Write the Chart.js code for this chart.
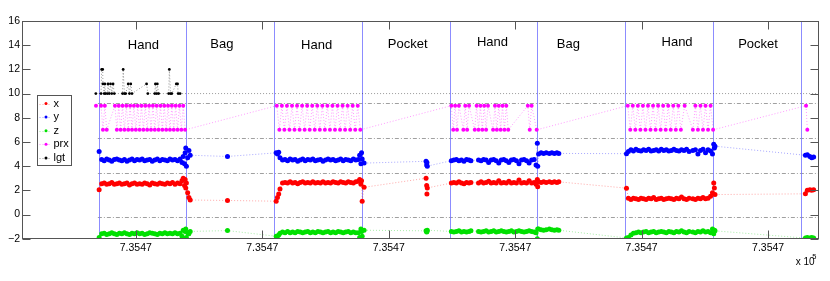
<!DOCTYPE html>
<html>
<head>
<meta charset="utf-8">
<script src="https://cdn.jsdelivr.net/npm/chart.js@4.4.1/dist/chart.umd.min.js"></script>
<style>
html,body{margin:0;padding:0;background:#fff;}
#c{display:block;}
</style>
</head>
<body>
<canvas id="c" width="830" height="281" style="width:830px;height:281px"></canvas>
<script>
// ---------- axis ticks ----------
const xTickVals = [0, 10, 20, 30, 40, 50];
const xTickLabels = ['7.3547', '7.3547', '7.3547', '7.3547', '7.3547', '7.3547'];
const yTickVals = [-2, 0, 2, 4, 6, 8, 10, 12, 14, 16];
const yTickLabels = ['\u22122', '0', '2', '4', '6', '8', '10', '12', '14', '16'];
const xExponent = '5';

// ---------- regions ----------
const boundaries = [-2.95, 3.95, 10.93, 17.89, 24.82, 31.75, 38.71, 45.67, 52.6];
const regionNames = ['Hand', 'Bag', 'Hand', 'Pocket', 'Hand', 'Bag', 'Hand', 'Pocket'];
const regionLabelX = [0.6, 6.8, 14.3, 21.5, 28.2, 34.2, 42.8, 49.2];
const regionLabelY = [13.7, 13.75, 13.7, 13.8, 13.9, 13.75, 13.95, 13.8];
const sepLevels = [9.25, 6.3, 3.4, -0.2];
const sepStart = -3.0;

// ---------- accelerometer series (shared time base) ----------
const accT = [
  -2.9,-2.7,-2.5,-2.3,-2.1,-1.9,-1.7,-1.5,-1.3,-1.1,-0.9,-0.7,-0.5,-0.3,-0.1,0.1,0.3,0.5,0.7,0.9,1.1,1.3,1.5,1.7,1.9,2.1,2.3,2.5,2.7,2.9,3.1,3.3,3.5,3.65,3.75,3.85,3.9,3.95,4.0,4.1,4.2,4.3,
  7.25,
  11.1,11.2,11.3,11.4,11.6,11.8,12.0,12.2,12.4,12.6,12.8,13.0,13.2,13.4,13.6,13.8,14.0,14.2,14.4,14.6,14.8,15.0,15.2,15.4,15.6,15.8,16.0,16.2,16.4,16.6,16.8,17.0,17.2,17.4,17.6,17.7,17.8,17.85,17.9,18.05,
  22.95,23.0,23.02,23.05,
  24.95,25.15,25.35,25.55,25.75,25.95,26.15,26.35,26.5,27.1,27.3,27.5,27.7,27.9,28.1,28.3,28.5,28.7,28.9,29.1,29.3,29.5,29.7,29.9,30.1,30.3,30.5,30.7,30.9,31.1,31.3,31.5,31.65,31.75,31.78,
  31.85,32.05,32.25,32.45,32.7,32.9,33.1,33.3,33.45,
  38.8,38.95,39.15,39.35,39.55,39.75,39.95,40.15,40.35,40.55,40.75,40.95,41.15,41.35,41.55,41.75,41.95,42.15,42.35,42.55,42.75,42.95,43.15,43.35,43.55,43.75,44.05,44.25,44.45,44.65,44.85,45.05,45.25,45.45,45.6,45.7,45.75,45.8,
  52.95,53.1,53.3,53.45,53.6
];
const accX = [
  2.05,2.55,2.6,2.5,2.55,2.65,2.5,2.55,2.6,2.5,2.55,2.6,2.45,2.55,2.6,2.5,2.55,2.5,2.6,2.55,2.45,2.6,2.55,2.5,2.6,2.55,2.5,2.6,2.55,2.65,2.5,2.6,2.55,2.8,3.0,2.4,2.9,2.2,2.6,1.8,1.4,1.2,
  1.16,
  1.1,1.4,1.7,2.1,2.6,2.65,2.6,2.7,2.6,2.65,2.55,2.65,2.7,2.6,2.65,2.6,2.7,2.6,2.65,2.6,2.7,2.6,2.65,2.6,2.7,2.65,2.6,2.7,2.65,2.6,2.7,2.65,2.6,2.7,2.75,2.9,2.5,2.8,1.1,2.25,
  3.0,2.4,1.7,2.2,
  2.6,2.65,2.6,2.7,2.6,2.55,2.65,2.6,2.65,2.6,2.7,2.6,2.65,2.75,2.6,2.65,2.6,2.8,2.6,2.65,2.6,2.75,2.6,2.65,2.6,2.85,2.6,2.65,2.6,2.8,2.6,2.65,2.5,2.9,2.3,
  2.7,2.65,2.7,2.65,2.7,2.65,2.7,2.65,2.7,
  2.18,1.35,1.25,1.35,1.3,1.25,1.35,1.3,1.25,1.35,1.3,1.4,1.25,1.3,1.35,1.25,1.3,1.35,1.3,1.25,1.35,1.3,1.45,1.3,1.25,1.35,1.3,1.25,1.35,1.3,1.4,1.3,1.35,1.5,1.8,2.6,2.2,1.65,
  1.71,2.0,2.05,2.0,2.05
];
const accY = [
  5.2,4.55,4.45,4.6,4.5,4.4,4.55,4.6,4.5,4.45,4.55,4.4,4.5,4.6,4.45,4.55,4.5,4.6,4.45,4.5,4.55,4.4,4.5,4.6,4.45,4.55,4.5,4.45,4.6,4.5,4.55,4.45,4.6,4.3,4.8,4.2,5.1,5.5,4.0,4.7,5.3,4.9,
  4.8,
  5.1,5.0,5.15,4.7,4.5,4.55,4.45,4.6,4.5,4.55,4.4,4.5,4.6,4.45,4.55,4.5,4.6,4.45,4.5,4.55,4.4,4.5,4.6,4.5,4.55,4.45,4.5,4.6,4.45,4.55,4.5,4.45,4.6,4.5,4.55,4.9,4.2,5.1,4.6,4.25,
  4.4,4.1,4.3,4.0,
  4.45,4.5,4.55,4.45,4.5,4.4,4.55,4.5,4.45,4.5,4.45,4.55,4.5,4.3,4.5,4.55,4.45,4.25,4.5,4.55,4.45,4.3,4.5,4.55,4.45,4.2,4.5,4.55,4.45,4.25,4.5,4.55,4.1,5.9,4.0,
  5.0,5.1,5.05,5.1,5.05,5.1,5.05,5.1,5.05,
  5.03,5.2,5.35,5.25,5.4,5.3,5.25,5.35,5.3,5.4,5.25,5.3,5.35,5.25,5.4,5.3,5.35,5.25,5.3,5.4,5.3,5.25,5.35,5.3,5.4,5.2,5.3,5.35,5.0,5.3,5.4,5.1,5.35,5.25,5.0,5.8,5.5,5.65,
  4.9,4.95,4.8,4.7,4.75
];
const accZ = [
  -1.9,-1.6,-1.55,-1.65,-1.6,-1.5,-1.6,-1.65,-1.55,-1.6,-1.5,-1.6,-1.65,-1.55,-1.6,-1.5,-1.6,-1.55,-1.65,-1.6,-1.5,-1.55,-1.6,-1.65,-1.55,-1.6,-1.5,-1.6,-1.55,-1.6,-1.5,-1.6,-1.55,-1.8,-1.3,-2.0,-1.4,-1.2,-1.9,-1.5,-1.6,-1.4,
  -1.33,
  -1.8,-2.0,-1.7,-1.55,-1.45,-1.5,-1.4,-1.5,-1.45,-1.5,-1.4,-1.45,-1.5,-1.45,-1.4,-1.5,-1.45,-1.5,-1.4,-1.45,-1.5,-1.45,-1.4,-1.5,-1.45,-1.5,-1.4,-1.45,-1.5,-1.45,-1.4,-1.5,-1.45,-1.5,-1.5,-1.9,-1.2,-1.4,-1.8,-1.3,
  -1.35,-1.45,-1.4,-1.3,
  -1.4,-1.45,-1.4,-1.35,-1.45,-1.4,-1.45,-1.4,-1.35,-1.4,-1.45,-1.4,-1.35,-1.45,-1.4,-1.35,-1.45,-1.4,-1.35,-1.4,-1.45,-1.4,-1.35,-1.45,-1.4,-1.35,-1.4,-1.45,-1.4,-1.35,-1.4,-1.45,-1.5,-2.0,-1.2,
  -1.2,-1.25,-1.3,-1.25,-1.2,-1.25,-1.3,-1.25,-1.3,
  -1.94,-1.9,-1.7,-1.55,-1.5,-1.45,-1.5,-1.45,-1.4,-1.5,-1.45,-1.4,-1.5,-1.45,-1.4,-1.45,-1.5,-1.4,-1.45,-1.5,-1.4,-1.45,-1.35,-1.45,-1.5,-1.4,-1.45,-1.5,-1.4,-1.45,-1.35,-1.45,-1.4,-1.5,-1.2,-1.6,-1.3,-1.35,
  -1.95,-1.9,-1.95,-1.9,-1.95
];

// ---------- proximity series ----------
const prxT = [
  -3.15,-2.75,-2.6,-2.45,-2.3,
  -1.65,-1.5,-1.35,-1.2,-1.05,-0.9,-0.75,-0.6,-0.45,-0.3,-0.15,0,0.15,0.3,0.45,0.6,0.75,0.9,1.05,1.2,1.35,1.5,1.65,1.8,1.95,2.1,2.25,2.4,2.55,2.7,2.85,3.0,3.15,3.3,3.45,3.6,3.75,3.9,
  11.15,11.35,11.55,11.75,11.95,12.15,12.35,12.55,12.75,12.95,13.15,13.35,13.55,13.75,13.95,14.15,14.35,14.55,14.75,14.95,15.15,15.35,15.55,15.75,15.95,16.15,16.35,16.55,16.75,16.95,17.15,17.35,17.55,17.75,
  24.95,25.1,25.25,25.4,25.55,25.9,26.05,26.2,26.35,26.8,26.95,27.1,27.25,27.4,27.55,27.7,27.85,28.25,28.4,28.55,28.7,28.85,29.0,29.15,29.3,29.45,31.0,31.15,31.3,31.7,
  38.9,39.1,39.3,39.5,39.7,39.9,40.1,40.3,40.5,40.7,40.9,41.1,41.3,41.5,41.7,41.9,42.1,42.3,42.5,42.7,42.9,43.1,43.4,44.05,44.25,44.45,44.65,44.85,45.05,45.25,45.45,45.65,
  53.0,53.1,53.35,53.45
];
const prxV = [
  9,9,7,9,7,
  9,7,9,7,9,7,9,7,9,7,9,7,9,7,9,7,9,7,9,7,9,7,9,7,9,7,9,7,9,7,9,7,9,7,
  9,7,9,7,9,7,9,7,9,7,9,7,9,7,9,7,9,7,9,7,9,7,9,7,9,7,9,7,9,7,9,7,9,7,9,7,
  9,7,9,7,9,7,9,7,9,7,9,7,9,7,9,7,9,7,9,7,9,7,9,7,9,7,9,7,9,7,
  9,7,9,7,9,7,9,7,9,7,9,7,9,7,9,7,9,7,9,7,9,7,9,7,9,7,9,7,9,7,9,7,
  9,7,9,7
];

// ---------- light series ----------
const lgtT = [-3.16,-2.75,-2.7,-2.62,-2.6,-2.5,-2.45,-2.4,-2.25,-2.2,-2.1,-2.0,-1.9,-1.8,-1.7,-1.05,-1.0,-0.9,-0.8,-0.6,-0.5,-0.4,-0.3,0.85,0.95,1.5,1.55,1.65,1.7,1.8,2.6,2.65,2.75,2.85,3.2,3.3,3.35,3.5,56];
const lgtV = [10,10,12,12,10.8,10,10.8,10,10,10.8,10,10.8,10,10.8,10,10,12,10,10,10.8,10,10.8,10,10.8,10,10,10.8,10,10.8,10,10,12,10,10,10.8,10.8,10,10,10];

// ---------- legend ----------
const legendNames = ['x', 'y', 'z', 'prx', 'lgt'];
const seriesColors = ['#ff0000', '#0000ff', '#00e000', '#ff00ff', '#000000'];
const lineColors = ['rgba(255,0,0,0.35)', 'rgba(0,0,255,0.35)', 'rgba(0,200,0,0.35)', 'rgba(255,0,255,0.4)', 'rgba(0,0,0,0.4)'];

const FONT = '"Liberation Sans", Arial, Helvetica, sans-serif';

function pts(xs, ys) { return xs.map((v, i) => ({ x: v, y: ys[i] })); }
function ds(idx, xs, ys, r) {
  return {
    label: legendNames[idx], data: pts(xs, ys), showLine: true,
    borderColor: lineColors[idx], borderWidth: 1, borderDash: [1, 2],
    pointRadius: r, pointBorderWidth: 0, pointBackgroundColor: seriesColors[idx],
    pointHoverRadius: r
  };
}

const decor = {
  id: 'decor',
  beforeDatasetsDraw(chart) {
    const { ctx, chartArea: a, scales: { x, y } } = chart;
    ctx.save();
    ctx.beginPath(); ctx.rect(a.left, a.top, a.right - a.left, a.bottom - a.top); ctx.clip();
    ctx.lineWidth = 1;
    ctx.strokeStyle = '#a0a0a0';
    ctx.setLineDash([4, 2, 1, 2]);
    sepLevels.forEach(v => {
      const py = Math.round(y.getPixelForValue(v)) + 0.5;
      ctx.beginPath(); ctx.moveTo(x.getPixelForValue(sepStart), py); ctx.lineTo(a.right, py); ctx.stroke();
    });
    ctx.setLineDash([]);
    ctx.strokeStyle = 'rgba(120,120,255,0.85)';
    boundaries.forEach(b => {
      const px = Math.round(x.getPixelForValue(b)) + 0.5;
      ctx.beginPath(); ctx.moveTo(px, a.top); ctx.lineTo(px, a.bottom); ctx.stroke();
    });
    ctx.restore();
  },
  afterDatasetsDraw(chart) {
    const { ctx, chartArea: a, scales: { x, y } } = chart;
    ctx.save();
    // region labels
    ctx.fillStyle = '#000';
    ctx.font = '13px ' + FONT;
    ctx.textAlign = 'center'; ctx.textBaseline = 'alphabetic';
    regionNames.forEach((n, i) => ctx.fillText(n, x.getPixelForValue(regionLabelX[i]), y.getPixelForValue(regionLabelY[i])));
    // frame
    const L = a.left + 0.5, R = Math.round(a.right) - 0.5, T = a.top + 0.5, B = Math.round(a.bottom) - 0.5;
    ctx.strokeStyle = '#555'; ctx.lineWidth = 1; ctx.setLineDash([]);
    ctx.strokeRect(L, T, R - L, B - T);
    const tl = 8;
    ctx.beginPath();
    xTickVals.forEach(v => {
      const px = Math.round(x.getPixelForValue(v)) + 0.5;
      ctx.moveTo(px, B); ctx.lineTo(px, B - tl);
      ctx.moveTo(px, T); ctx.lineTo(px, T + tl);
    });
    yTickVals.forEach(v => {
      const py = Math.round(y.getPixelForValue(v)) + 0.5;
      ctx.moveTo(L, py); ctx.lineTo(L + tl, py);
      ctx.moveTo(R, py); ctx.lineTo(R - tl, py);
    });
    ctx.stroke();
    // legend
    const lx = a.left + 15, ly = a.top + 74, lw = 34, lh = 70;
    ctx.fillStyle = '#fff';
    ctx.fillRect(lx, ly, lw, lh);
    ctx.strokeStyle = '#555';
    ctx.strokeRect(lx + 0.5, ly + 0.5, lw, lh);
    ctx.font = '11px ' + FONT;
    ctx.textAlign = 'left'; ctx.textBaseline = 'middle';
    legendNames.forEach((n, i) => {
      const cy = ly + 8.5 + i * 13.6;
      ctx.strokeStyle = lineColors[i]; ctx.setLineDash([1, 2]);
      ctx.beginPath(); ctx.moveTo(lx + 2.5, Math.round(cy) + 0.5); ctx.lineTo(lx + 13.5, Math.round(cy) + 0.5); ctx.stroke();
      ctx.setLineDash([]);
      ctx.fillStyle = seriesColors[i];
      ctx.beginPath(); ctx.arc(lx + 9, cy, 1.5, 0, Math.PI * 2); ctx.fill();
      ctx.fillStyle = '#000';
      ctx.fillText(n, lx + 16.5, cy);
    });
    // exponent
    ctx.textBaseline = 'alphabetic';
    ctx.font = '10px ' + FONT;
    ctx.fillText('x 10', a.right - 23, a.bottom + 26.3);
    ctx.font = '7.5px ' + FONT;
    ctx.fillText(xExponent, a.right - 6.5, a.bottom + 20);
    ctx.restore();
  }
};

new Chart(document.getElementById('c'), {
  type: 'scatter',
  data: {
    datasets: [
      ds(0, accT, accX, 2.5),
      ds(1, accT, accY, 2.5),
      ds(2, accT, accZ, 2.5),
      ds(3, prxT, prxV, 2),
      ds(4, lgtT, lgtV, 1.4)
    ]
  },
  options: {
    responsive: false, animation: false, devicePixelRatio: 1,
    layout: { padding: { top: 21, right: 11.3, left: 0, bottom: 0 } },
    plugins: { legend: { display: false }, tooltip: { enabled: false } },
    scales: {
      x: {
        type: 'linear', min: -9, max: 54,
        afterBuildTicks: s => { s.ticks = xTickVals.map(v => ({ value: v })); },
        afterFit: s => { s.height = 42.3; },
        grid: { display: false, drawTicks: false }, border: { display: false },
        ticks: { autoSkip: false, maxRotation: 0, padding: 3, color: '#000', font: { family: FONT, size: 10.5 },
          callback: (v) => xTickLabels[xTickVals.indexOf(v)] }
      },
      y: {
        type: 'linear', min: -2, max: 16,
        afterBuildTicks: s => { s.ticks = yTickVals.map(v => ({ value: v })); },
        afterFit: s => { s.width = 22; },
        grid: { display: false, drawTicks: false }, border: { display: false },
        ticks: { autoSkip: false, padding: 2, color: '#000', font: { family: FONT, size: 10.5 },
          callback: (v) => yTickLabels[yTickVals.indexOf(v)] }
      }
    }
  },
  plugins: [decor]
});
</script>
</body>
</html>
